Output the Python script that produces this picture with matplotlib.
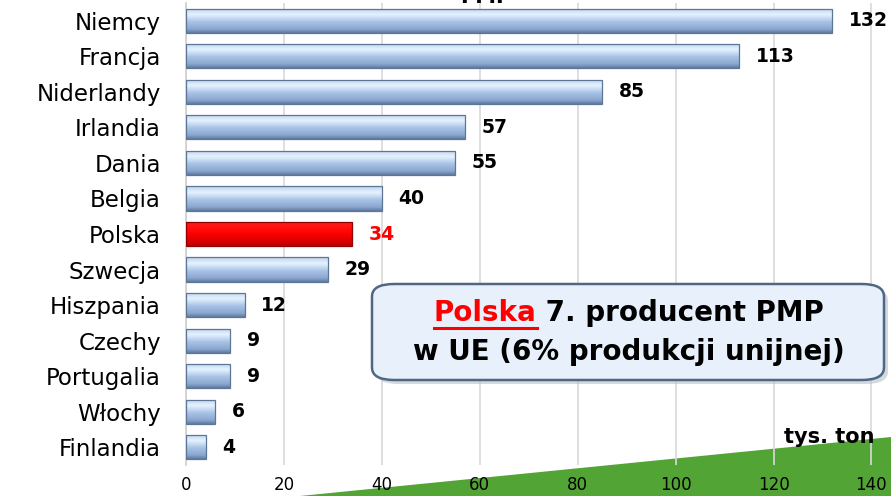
import matplotlib
matplotlib.use("Agg")
import matplotlib.pyplot as plt
import numpy as np
from matplotlib.patches import FancyBboxPatch, Polygon, Rectangle
from matplotlib.lines import Line2D

# Dane: produkcja PMP w UE (tys. ton)
kraje = ["Niemcy", "Francja", "Niderlandy", "Irlandia", "Dania", "Belgia", "Polska",
         "Szwecja", "Hiszpania", "Czechy", "Portugalia", "Włochy", "Finlandia"]
wartosci = [132, 113, 85, 57, 55, 40, 34, 29, 12, 9, 9, 6, 4]
wyroznij = "Polska"
x_ticks = [0, 20, 40, 60, 80, 100, 120, 140]

plt.rcParams['font.family'] = ['DejaVu Sans']

fig = plt.figure(figsize=(8.91, 4.96), dpi=100)
W, H = 891, 496

# zielony klin w tle (dekoracja)
klin = Polygon([(300 / W, 0), (1, 59 / H), (1, 0)], closed=True,
               transform=fig.transFigure, facecolor="#52a535", edgecolor="none", zorder=0)
fig.patches.append(klin)

ax = fig.add_axes([186 / W, 31 / H, 705 / W, 462 / H])
ax.set_facecolor("none")
ax.set_zorder(2)

y = np.arange(len(kraje))
bars = ax.barh(y, wartosci, height=0.68, color="none", edgecolor="none", zorder=3)

# gradient na słupkach
grad = np.linspace(0, 1, 64).reshape(-1, 1)
niebieski = matplotlib.colors.LinearSegmentedColormap.from_list(
    "b", [(0, "#bcd2ee"), (0.25, "#e6f3ff"), (0.55, "#a9c3e6"), (0.85, "#8aa6cf"), (1, "#5f7aa0")])
czerwony = matplotlib.colors.LinearSegmentedColormap.from_list(
    "r", [(0, "#ff2020"), (0.5, "#ff0000"), (1, "#c00000")])
for b, kraj in zip(bars, kraje):
    x0, y0 = b.get_x(), b.get_y()
    w, h = b.get_width(), b.get_height()
    if kraj == wyroznij:
        cmap, edge = czerwony, "#900000"
    else:
        cmap, edge = niebieski, "#5d7696"
    im = ax.imshow(grad, cmap=cmap, aspect="auto", extent=(x0, x0 + w, y0 + h, y0),
                   zorder=3, interpolation="bilinear")
    rect = Rectangle((x0, y0), w, h, transform=ax.transData,
                     facecolor="none", edgecolor=edge, lw=0.9, zorder=4)
    ax.add_patch(rect)
    im.set_clip_path(rect)
    kolor = "#ff0000" if kraj == wyroznij else "black"
    ax.annotate(str(int(w)), (x0 + w, y0 + h / 2), xytext=(12, 0), textcoords="offset points",
                va="center", ha="left", fontsize=13.5, fontweight="bold", color=kolor, zorder=5)

ax.set_xlim(0, 144)
ax.set_ylim(len(kraje) - 0.5, -0.5)
ax.set_yticks(y)
ax.set_yticklabels(kraje, fontsize=16.5)
ax.set_xticks(x_ticks)
ax.set_xticklabels([str(t) for t in x_ticks], fontsize=12)
ax.tick_params(axis="y", length=0, pad=18)
ax.tick_params(axis="x", length=0, pad=8)
ax.grid(axis="x", color="#d9d9d9", lw=1.2, zorder=0)
for s in ax.spines.values():
    s.set_visible(False)
ax.spines["left"].set_visible(True)
ax.spines["left"].set_color("#d0d0d0")
ax.spines["left"].set_linewidth(1.2)

# tytuł (ucięty u góry)
fig.text(0.545, (496 - 3) / H, "PMP", ha="center", va="baseline", fontsize=15, fontweight="bold")

fig.text(874 / W, (496 - 437) / H, "tys. ton", ha="right", va="center", fontsize=15,
         fontweight="bold", zorder=5)

# ramka z komentarzem
cien = FancyBboxPatch((376 / W, (496 - 384) / H), 512 / W, 96 / H,
                      boxstyle="round,pad=0,rounding_size=0.025", transform=fig.transFigure,
                      facecolor="#b8c0c8", edgecolor="none", zorder=6, alpha=0.6)
ramka = FancyBboxPatch((372 / W, (496 - 380) / H), 512 / W, 96 / H,
                       boxstyle="round,pad=0,rounding_size=0.025", transform=fig.transFigure,
                       facecolor="#e8f1fb", edgecolor="#4f6785", lw=1.8, zorder=7)
fig.patches.extend([cien, ramka])

t1 = fig.text(0, (496 - 313) / H, "Polska", ha="left", va="center", fontsize=20,
              fontweight="bold", color="#ff0000", zorder=8)
t2 = fig.text(0, (496 - 313) / H, " 7. producent PMP", ha="left", va="center", fontsize=20,
              fontweight="bold", color="black", zorder=8)
fig.canvas.draw()
r = fig.canvas.get_renderer()
w1 = t1.get_window_extent(r).width
w2 = t2.get_window_extent(r).width
start = 629 - (w1 + w2) / 2
t1.set_x(start / W)
t2.set_x((start + w1) / W)
bb = t1.get_window_extent(r)
fig.lines.append(Line2D([start / W, (start + w1) / W], [(bb.y0 - 1) / H, (bb.y0 - 1) / H],
                        transform=fig.transFigure, color="#ff0000", lw=2.2, zorder=8))
fig.text(629 / W, (496 - 352) / H, "w UE (6% produkcji unijnej)", ha="center", va="center",
         fontsize=20, fontweight="bold", color="black", zorder=8)

fig.savefig("out.png", dpi=100)
